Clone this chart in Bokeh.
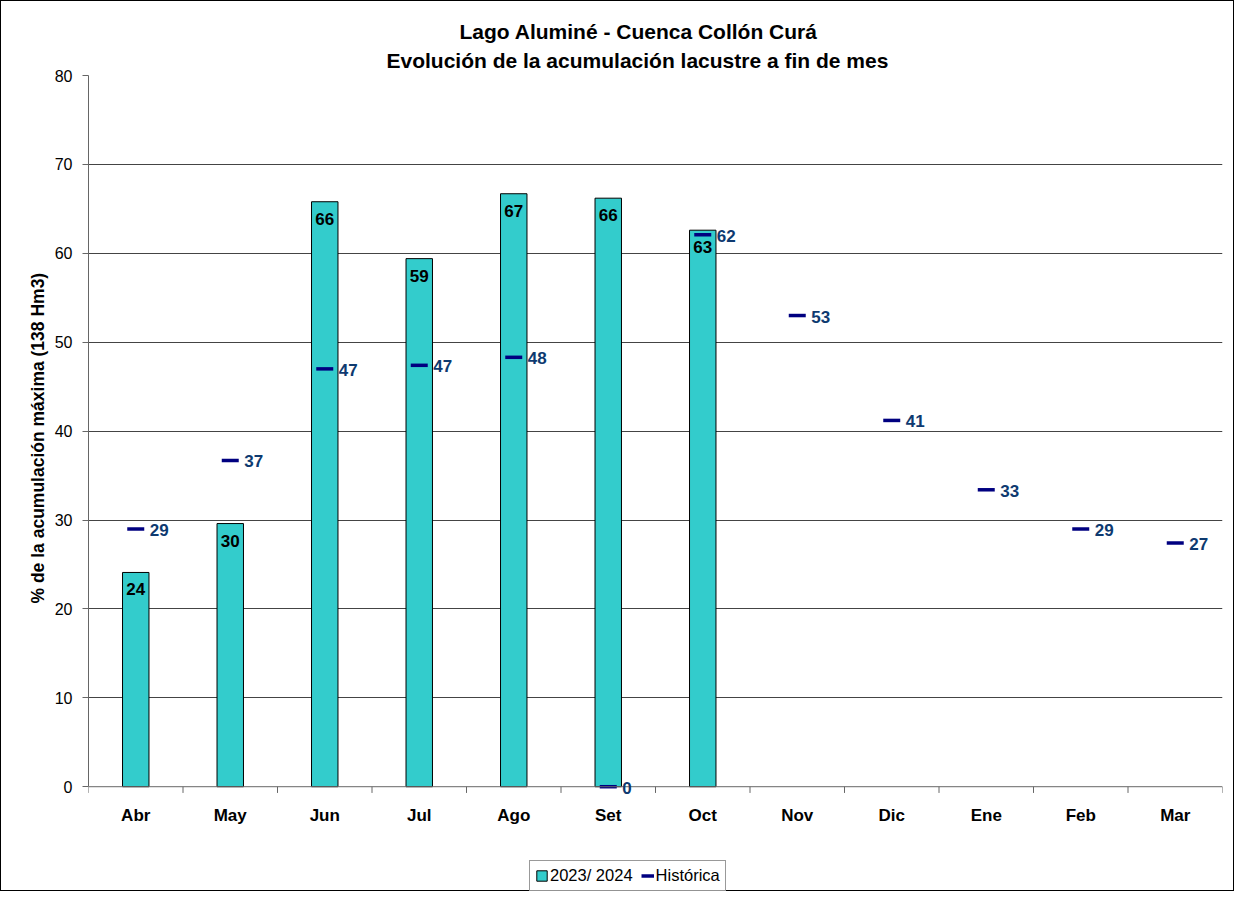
from bokeh.plotting import figure
from bokeh.models import (Range1d, FixedTicker, Title, Legend, LegendItem,
                          ColumnDataSource, LabelSet, Span)
from bokeh.core.properties import value
from bokeh.embed import file_html
from bokeh.resources import INLINE

months = ["Abr", "May", "Jun", "Jul", "Ago", "Set", "Oct", "Nov", "Dic", "Ene", "Feb", "Mar"]
actual = [24.1, 29.6, 65.8, 59.4, 66.7, 66.2, 62.6]
historic = [29.0, 36.7, 47.0, 47.4, 48.3, 0.0, 62.1, 53.0, 41.2, 33.4, 29.0, 27.4]
y_ticks = [0, 10, 20, 30, 40, 50, 60, 70, 80]

FONT = "Liberation Sans"
AXIS_COLOR = "#666666"
HIST_COLOR = "#000080"

xa = [i + 0.5 for i in range(len(actual))]
xh = [i + 0.5 for i in range(len(months))]
bounds = list(range(len(months) + 1))
src_a = ColumnDataSource(dict(x=xa, y=actual, t=[f"{v:.0f}" for v in actual]))
src_h = ColumnDataSource(dict(x=xh, y=historic, t=[f"{v:.0f}" for v in historic]))
src_m = ColumnDataSource(dict(x=xh, y=[0] * len(months), t=months))

# the frame reaches the bottom of the canvas so that the category labels,
# the "0" label and the legend below the zero line are drawn inside it
p = figure(width=1234, height=891, output_backend="svg", toolbar_location=None,
           x_range=Range1d(0, len(months)), y_range=Range1d(-11.9, 80),
           x_axis_location=None,
           min_border_left=87, min_border_right=13, min_border_top=74, min_border_bottom=0)
p.outline_line_color = None
p.background_fill_color = "white"
p.border_fill_color = "white"
p.styles = {"border": "1px solid black"}

t2 = Title(text="Evolución de la acumulación lacustre a fin de mes", align="left",
           text_font=FONT, text_font_size="21px", text_font_style="bold",
           text_color="black", offset=298, standoff=8)
t1 = Title(text="Lago Aluminé - Cuenca Collón Curá", align="left",
           text_font=FONT, text_font_size="21px", text_font_style="bold",
           text_color="black", offset=371, standoff=0)
p.add_layout(t2, "above")
p.add_layout(t1, "above")

# y axis title (as a left title so it can be placed along the 0-80 span)
ytitle = Title(text="% de la acumulación máxima (138 Hm3)", align="left",
               text_font=FONT, text_font_size="17.5px", text_font_style="bold",
               text_color="black", offset=289, standoff=8)
p.add_layout(ytitle, "left")

# category axis drawn at y = 0
p.add_layout(Span(location=0, dimension="width", line_color=AXIS_COLOR, line_width=1))
p.segment(x0=bounds, y0=[0] * len(bounds), x1=bounds, y1=[-0.7] * len(bounds),
          line_color=AXIS_COLOR, line_width=1)
p.add_layout(LabelSet(x="x", y="y", text="t", source=src_m, text_align="center",
                      text_baseline="middle", y_offset=-29, text_font=value(FONT),
                      text_font_size="17px", text_font_style="bold", text_color="black"))

bars = p.vbar(x="x", top="y", width=0.28, source=src_a, fill_color="#33CCCC",
              line_color="black", line_width=1)
hist = p.scatter(x="x", y="y", marker="dash", size=17, line_width=3.5,
                 line_color=HIST_COLOR, source=src_h)
# line-style swatch for the legend entry of the historic series (draws nothing)
nan = float("nan")
hist_key = p.line(x=[nan, nan], y=[nan, nan], line_color=HIST_COLOR, line_width=3.5)

p.add_layout(LabelSet(x="x", y="y", text="t", source=src_a, text_align="center",
                      text_baseline="top", y_offset=-11, text_font=value(FONT),
                      text_font_size="17px", text_font_style="bold", text_color="black"))
p.add_layout(LabelSet(x="x", y="y", text="t", source=src_h, text_align="left",
                      text_baseline="middle", x_offset=14, y_offset=-1, text_font=value(FONT),
                      text_font_size="17px", text_font_style="bold", text_color="#0E3A70"))

# y axis
p.yaxis.ticker = FixedTicker(ticks=y_ticks)
p.yaxis.bounds = (0, 80)
p.yaxis.major_label_text_font = FONT
p.yaxis.major_label_text_font_size = "16px"
p.yaxis.major_label_text_color = "black"
p.yaxis.axis_line_color = AXIS_COLOR
p.yaxis.major_tick_line_color = AXIS_COLOR
p.yaxis.major_tick_out = 6
p.yaxis.major_tick_in = 0
p.yaxis.minor_tick_line_color = None
p.yaxis.major_label_standoff = 10

p.xgrid.grid_line_color = None
p.ygrid.grid_line_color = "#444444"
p.ygrid.ticker = FixedTicker(ticks=y_ticks[1:])

legend = Legend(items=[LegendItem(label="2023/ 2024", renderers=[bars]),
                       LegendItem(label="Histórica", renderers=[hist_key])],
                orientation="horizontal", location=(441, 1),
                label_text_font=FONT, label_text_font_size="16.5px",
                label_text_color="black",
                border_line_color="#333333", padding=5, spacing=8,
                glyph_width=13, glyph_height=13, label_standoff=2, margin=0)
p.add_layout(legend, "center")

open("out.html", "w").write(file_html(p, INLINE))
